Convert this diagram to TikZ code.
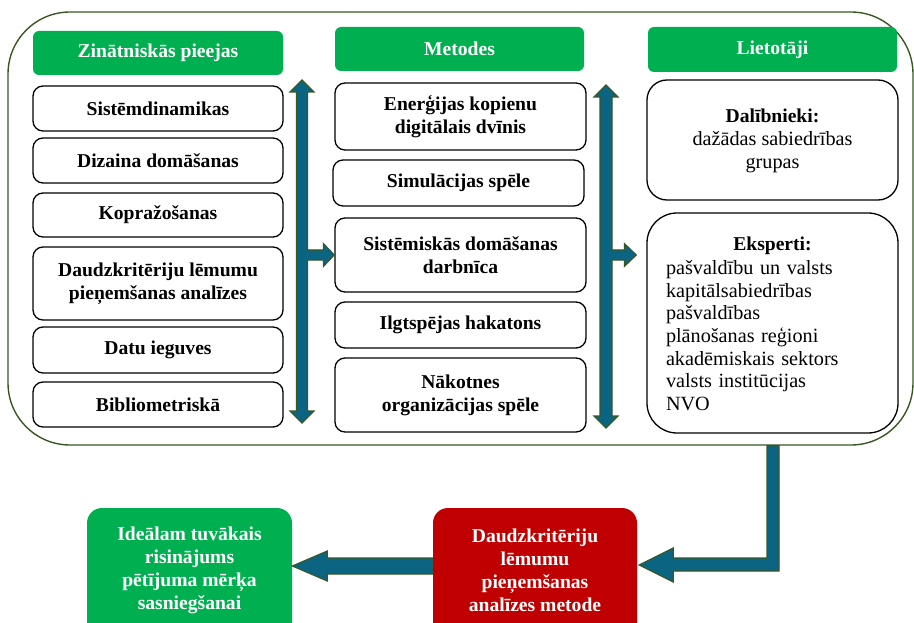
\documentclass[tikz,border=0pt]{standalone}
\usepackage{fontspec}
\setmainfont{Liberation Serif}
\usetikzlibrary{calc}

\definecolor{hdrgreen}{HTML}{00B050}
\definecolor{framegreen}{HTML}{385723}
\definecolor{arrowblue}{HTML}{0C6483}
\definecolor{boxred}{HTML}{C00000}

\newcommand\regulartext{\fontsize{20.2}{22.6}\selectfont\mdseries}

\tikzset{
  basetext/.style={font=\fontsize{19.6}{23}\selectfont\bfseries, align=center, inner sep=2pt},
  header/.style={basetext, fill=hdrgreen, text=white, rounded corners=6pt,
    minimum width=250pt, minimum height=44pt},
  item/.style={basetext, draw=black, line width=1.3pt, fill=white, rounded corners=10pt,
    minimum width=250pt},
  userbox/.style={item, minimum width=251pt},
  outcome/.style={basetext, text=white, rounded corners=15pt, minimum width=205pt,
    minimum height=132pt},
  frame/.style={draw=framegreen, line width=1.4pt, rounded corners=62pt},
  blockarrow/.style={fill=arrowblue, draw=framegreen, line width=1.1pt, line join=miter}
}

\begin{document}
\begin{tikzpicture}[x=1pt,y=-1pt]
  \useasboundingbox (0,0) rectangle (914,623);
  \clip (0,0) rectangle (914,623);

  % outer frame around the three columns
  \node[frame, minimum width=905pt, minimum height=433pt] (F) at (460.5,228.5) {};

  % column headers
  \node[header] (H1) at (158,53) {Zinātniskās pieejas};
  \node[header, minimum width=249pt] (H2) at (459.5,49) {Metodes};
  \node[header, minimum width=249pt, minimum height=45pt] (H3) at (772.5,49.5) {Lietotāji};

  % scientific approaches
  \node[item, minimum height=45pt] (L1) at (158,108.5) {Sistēmdinamikas};
  \node[item, minimum height=45pt] (L2) at (158,160.5) {Dizaina domāšanas};
  \node[item, minimum height=44pt] (L3) at (158,215) {Kopražošanas};
  \node[item, minimum height=73pt] (L4) at (158,283.5) {Daudzkritēriju lēmumu\\pieņemšanas analīzes};
  \node[item, minimum height=46pt] (L5) at (158,350) {Datu ieguves};
  \node[item, minimum height=45pt] (L6) at (158,404.5) {Bibliometriskā};

  % methods
  \node[item, minimum width=251pt, minimum height=67pt] (M1) at (460.5,116.5) {Enerģijas kopienu\\digitālais dvīnis};
  \node[item, minimum width=251pt, minimum height=46pt] (M2) at (458.5,183) {Simulācijas spēle};
  \node[item, minimum width=251pt, minimum height=74pt] (M3) at (460.5,255) {Sistēmiskās domāšanas\\darbnīca};
  \node[item, minimum width=251pt, minimum height=46pt] (M4) at (460.5,325) {Ilgtspējas hakatons};
  \node[item, minimum width=251pt, minimum height=74pt] (M5) at (460.5,395) {Nākotnes\\organizācijas spēle};

  % users
  \node[userbox, minimum height=120pt, rounded corners=20pt] (R1) at (772.5,140) {};
  \node[basetext, inner sep=0pt] (R1t) at ($(R1.center)+(0,1)$)
    {Dalībnieki:\\[-0.5pt]{\regulartext dažādas sabiedrības}\\{\regulartext grupas}};
  \node[userbox, minimum height=220pt, rounded corners=30pt] (R2) at (772.5,323) {};
  \node[basetext, anchor=north, inner sep=0pt, text width=213pt, align=left]
    (R2t) at ($(R2.north)+(0,24)$)
    {\makebox[\linewidth][c]{Eksperti:}\\[2pt]
     \regulartext pašvaldību un valsts\\
     kapitālsabiedrības\\
     pašvaldības\\
     plānošanas reģioni\\
     akadēmiskais sektors\\
     valsts institūcijas\\
     NVO};

  % double arrow beside the approaches, branching to the methods
  \coordinate (LT) at (302,80);
  \coordinate (LB) at (302,423);
  \draw[blockarrow] (LT) -- ++(12,12) -- ++(-6.5,0)
    -- ($(LT |- M3.west)+(5.5,-5)$) -- ($(M3.west)+(-11,-5)$) -- ++(0,-6.5)
    -- (M3.west) -- ++(-11,11.5) -- ++(0,-6.5)
    -- ($(LT |- M3.west)+(5.5,5)$) -- ($(LB)+(5.5,-12)$) -- ++(6.5,0)
    -- (LB) -- ++(-12,-12) -- ++(6.5,0)
    -- ($(LT)+(-5.5,12)$) -- ++(-6.5,0) -- cycle;

  % double arrow beside the methods, branching to the experts
  \coordinate (RT) at (606,85);
  \coordinate (RB) at (606,428);
  \coordinate (RX) at ($(R2.west |- M3.west)+(-10,0)$);
  \draw[blockarrow] (RT) -- ++(12,12) -- ++(-6,0)
    -- ($(RT |- RX)+(6,-5)$) -- ($(RX)+(-12,-5)$) -- ++(0,-6.5)
    -- (RX) -- ++(-12,11.5) -- ++(0,-6.5)
    -- ($(RT |- RX)+(6,5)$) -- ($(RB)+(6,-12)$) -- ++(6,0)
    -- (RB) -- ++(-12,-12) -- ++(6,0)
    -- ($(RT)+(-6,12)$) -- ++(-6,0) -- cycle;

  % outcome boxes
  \node[outcome, fill=hdrgreen] (G) at (189.5,574) {};
  \coordinate (GT) at ($(G.east)+(0,-8)$);
  \draw[blockarrow] (GT) -- ++(35,-15) -- ++(0,7) -- ($(GT)+(141,-8)$)
    -- ($(GT)+(141,8)$) -- ($(GT)+(35,8)$) -- ++(0,7) -- cycle;
  \node[outcome, fill=boxred, minimum width=204pt] (Rd) at (535,574) {};
  \node[basetext, text=white] (Gt) at ($(G.center)+(0,-4)$)
    {Ideālam tuvākais\\risinājums\\pētījuma mērķa\\sasniegšanai};
  \node[basetext, text=white] (Rdt) at ($(Rd.center)+(0,-4)$)
    {Daudzkritēriju\\lēmumu\\pieņemšanas\\analīzes metode};

  % from the frame down to the evaluation method
  \coordinate (bx) at (773,0);
  \coordinate (rT) at ($(Rd.east)+(2,-9)$);
  \draw[blockarrow] ($(F.south -| bx)+(-6,0)$) -- ($(bx |- rT)+(-6,-7)$)
    -- ($(rT)+(34,-7)$) -- ++(0,-10) -- (rT) -- ++(34,17) -- ++(0,-11)
    -- ($(bx |- rT)+(6,6)$) -- ($(F.south -| bx)+(6,0)$) -- cycle;
\end{tikzpicture}
\end{document}
